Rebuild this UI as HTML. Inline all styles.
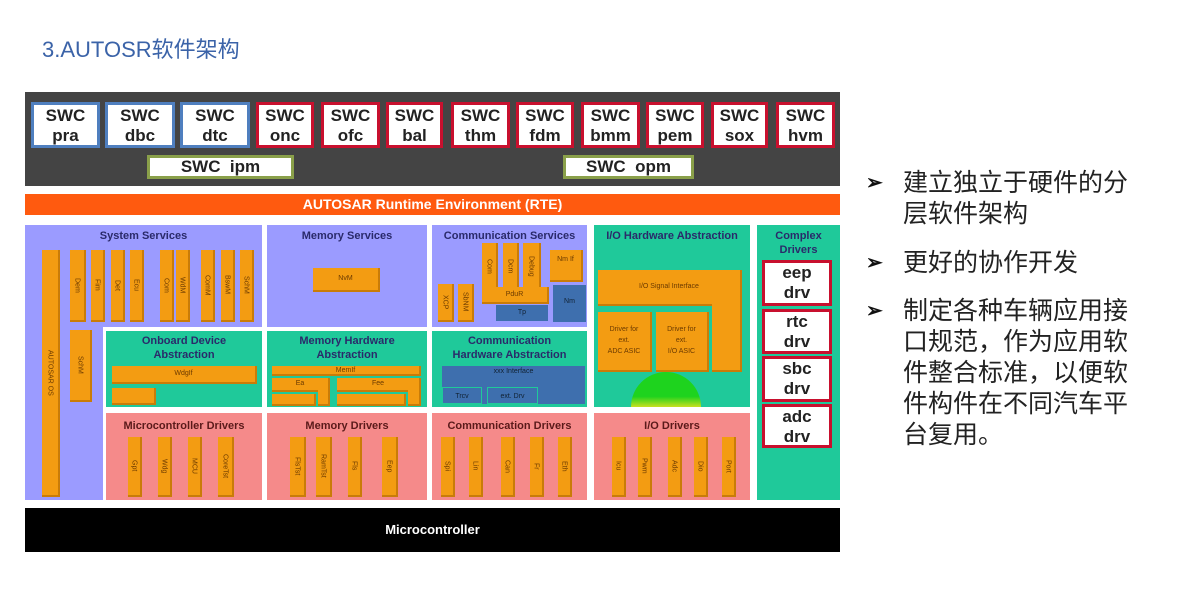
<!DOCTYPE html>
<html><head><meta charset="utf-8"><style>
body{margin:0;width:1195px;height:596px;background:#fff;position:relative;overflow:hidden;font-family:"Liberation Sans",Arial,sans-serif}
.a{position:absolute;box-sizing:border-box}
.swc{position:absolute;box-sizing:border-box;top:102px;height:46px;background:#fff;border:3px solid #c8102e;font-weight:bold;font-size:17px;line-height:20px;text-align:center;color:#222;padding-top:1px}
.b{border-color:#4f7fbf}
.o{position:absolute;background:#f39c12;box-sizing:border-box;border-right:2px solid #c97c08;border-bottom:2px solid #c97c08}
.bl{position:absolute;background:#3e6fae;box-sizing:border-box}
.t{position:absolute;font-size:11px;font-weight:bold;color:#2a2a6a;text-align:center;line-height:14px}
.v{writing-mode:vertical-rl;font-size:7px;color:#6b3a00;display:flex;align-items:center;justify-content:center}
.s{font-size:7px;color:#6b3a00;text-align:center}
.cd{position:absolute;box-sizing:border-box;left:762px;width:70px;background:#fff;border:3px solid #c8102e;font-weight:bold;font-size:17px;line-height:20px;text-align:center;color:#222}
.txt{position:absolute;left:903px;font-family:"Liberation Sans","Noto Sans CJK SC",sans-serif;font-size:25px;color:#222;line-height:31px}
.bu{position:absolute;left:866px;font-size:20px;color:#111;font-weight:bold}
</style></head><body>
<div class="a" style="left:42px;top:32px;font-size:22px;color:#3b63a8;font-family:'Liberation Sans','Noto Sans CJK SC',sans-serif">3.AUTOSR软件架构</div>

<div class="a" style="left:25px;top:92px;width:815px;height:94px;background:#444"></div>
<div class="swc b" style="left:31px;width:69px">SWC<br>pra</div>
<div class="swc b" style="left:105px;width:70px">SWC<br>dbc</div>
<div class="swc b" style="left:180px;width:70px">SWC<br>dtc</div>
<div class="swc" style="left:256px;width:58px">SWC<br>onc</div>
<div class="swc" style="left:321px;width:59px">SWC<br>ofc</div>
<div class="swc" style="left:386px;width:57px">SWC<br>bal</div>
<div class="swc" style="left:451px;width:59px">SWC<br>thm</div>
<div class="swc" style="left:516px;width:58px">SWC<br>fdm</div>
<div class="swc" style="left:581px;width:59px">SWC<br>bmm</div>
<div class="swc" style="left:646px;width:58px">SWC<br>pem</div>
<div class="swc" style="left:711px;width:57px">SWC<br>sox</div>
<div class="swc" style="left:776px;width:59px">SWC<br>hvm</div>
<div class="swc" style="left:147px;top:155px;width:147px;height:24px;border-color:#8aa04a;line-height:18px;padding-top:0">SWC&nbsp; ipm</div>
<div class="swc" style="left:563px;top:155px;width:131px;height:24px;border-color:#8aa04a;line-height:18px;padding-top:0">SWC&nbsp; opm</div>

<div class="a" style="left:25px;top:194px;width:815px;height:21px;background:#ff5a0f;color:#fff;font-weight:bold;font-size:14px;text-align:center;line-height:21px">AUTOSAR Runtime Environment (RTE)</div>

<div class="a" style="left:25px;top:225px;width:237px;height:102px;background:#9b9bff"></div>
<div class="a" style="left:25px;top:325px;width:78px;height:175px;background:#9b9bff"></div>
<div class="t" style="left:25px;top:229px;width:237px">System Services</div>
<div class="o v" style="left:42px;top:250px;width:18px;height:247px">AUTOSAR OS</div>
<div class="o v" style="left:70px;top:250px;width:16px;height:72px">Dem</div>
<div class="o v" style="left:91px;top:250px;width:14px;height:72px">Fim</div>
<div class="o v" style="left:111px;top:250px;width:14px;height:72px">Det</div>
<div class="o v" style="left:130px;top:250px;width:14px;height:72px">Ecu</div>
<div class="o v" style="left:160px;top:250px;width:14px;height:72px">Com</div>
<div class="o v" style="left:176px;top:250px;width:14px;height:72px">WdM</div>
<div class="o v" style="left:201px;top:250px;width:14px;height:72px">ComM</div>
<div class="o v" style="left:221px;top:250px;width:14px;height:72px">BswM</div>
<div class="o v" style="left:240px;top:250px;width:14px;height:72px">SchM</div>
<div class="o v" style="left:70px;top:330px;width:22px;height:72px">SchM</div>

<div class="a" style="left:267px;top:225px;width:160px;height:102px;background:#9b9bff"></div>
<div class="t" style="left:267px;top:229px;width:160px">Memory Services</div>
<div class="o s" style="left:313px;top:268px;width:67px;height:24px;line-height:22px">NvM</div>

<div class="a" style="left:432px;top:225px;width:155px;height:102px;background:#9b9bff"></div>
<div class="t" style="left:432px;top:229px;width:155px">Communication Services</div>
<div class="o v" style="left:482px;top:243px;width:16px;height:48px">Com</div>
<div class="o v" style="left:503px;top:243px;width:16px;height:48px">Dcm</div>
<div class="o v" style="left:523px;top:243px;width:18px;height:48px">Debug</div>
<div class="o s" style="left:550px;top:250px;width:33px;height:32px;padding-top:6px">Nm If</div>
<div class="o s" style="left:482px;top:287px;width:67px;height:17px;line-height:15px">PduR</div>
<div class="bl s" style="left:496px;top:305px;width:52px;height:16px;line-height:16px;color:#123">Tp</div>
<div class="bl s" style="left:553px;top:285px;width:33px;height:37px;line-height:34px;color:#123">Nm</div>
<div class="o v" style="left:438px;top:284px;width:16px;height:38px">XCP</div>
<div class="o v" style="left:458px;top:284px;width:16px;height:38px">SbNM</div>

<div class="a" style="left:594px;top:225px;width:156px;height:182px;background:#1fc99a"></div>
<div class="t" style="left:594px;top:229px;width:156px">I/O Hardware Abstraction</div>
<div class="o s" style="left:598px;top:270px;width:144px;height:36px;line-height:34px">I/O Signal Interface</div>
<div class="o" style="left:712px;top:300px;width:30px;height:72px"></div>
<div class="o s" style="left:598px;top:312px;width:54px;height:60px;padding-top:12px;line-height:11px">Driver for<br>ext.<br>ADC ASIC</div>
<div class="o s" style="left:656px;top:312px;width:53px;height:60px;padding-top:12px;line-height:11px">Driver for<br>ext.<br>I/O ASIC</div>
<div class="a" style="left:631px;top:372px;width:70px;height:35px;border-radius:35px 35px 0 0;background:linear-gradient(#1ed31e 70%,#c8e020)"></div>

<div class="a" style="left:757px;top:225px;width:83px;height:275px;background:#1fc99a"></div>
<div class="t" style="left:757px;top:229px;width:83px">Complex<br>Drivers</div>
<div class="cd" style="top:260px;height:46px">eep<br>drv</div>
<div class="cd" style="top:309px;height:45px">rtc<br>drv</div>
<div class="cd" style="top:356px;height:46px">sbc<br>drv</div>
<div class="cd" style="top:404px;height:44px">adc<br>drv</div>

<div class="a" style="left:106px;top:331px;width:156px;height:76px;background:#1fc99a"></div>
<div class="t" style="left:106px;top:334px;width:156px">Onboard Device<br>Abstraction</div>
<div class="o s" style="left:112px;top:366px;width:145px;height:18px;line-height:16px">WdgIf</div>
<div class="o" style="left:112px;top:388px;width:44px;height:17px"></div>

<div class="a" style="left:267px;top:331px;width:160px;height:76px;background:#1fc99a"></div>
<div class="t" style="left:267px;top:334px;width:160px">Memory Hardware<br>Abstraction</div>
<div class="o s" style="left:272px;top:366px;width:149px;height:10px;line-height:9px">MemIf</div>
<div class="o s" style="left:272px;top:378px;width:58px;height:14px;line-height:12px">Ea</div>
<div class="o" style="left:318px;top:378px;width:12px;height:28px"></div>
<div class="o" style="left:272px;top:394px;width:44px;height:12px"></div>
<div class="o s" style="left:337px;top:378px;width:84px;height:14px;line-height:12px">Fee</div>
<div class="o" style="left:408px;top:378px;width:13px;height:28px"></div>
<div class="o" style="left:337px;top:394px;width:69px;height:12px"></div>

<div class="a" style="left:432px;top:331px;width:155px;height:76px;background:#1fc99a"></div>
<div class="t" style="left:432px;top:334px;width:155px">Communication<br>Hardware Abstraction</div>
<div class="bl s" style="left:442px;top:366px;width:143px;height:38px;line-height:12px;color:#123">xxx Interface</div>
<div class="bl s" style="left:442px;top:387px;width:40px;height:17px;line-height:17px;color:#123;border:1px solid #1fc99a">Trcv</div>
<div class="bl s" style="left:487px;top:387px;width:51px;height:17px;line-height:17px;color:#123;border:1px solid #1fc99a">ext. Drv</div>

<div class="a" style="left:106px;top:413px;width:156px;height:87px;background:#f58a8a"></div>
<div class="t" style="left:106px;top:419px;width:156px;color:#5a1a1a">Microcontroller Drivers</div>
<div class="o v" style="left:128px;top:437px;width:14px;height:60px">Gpt</div>
<div class="o v" style="left:158px;top:437px;width:14px;height:60px">Wdg</div>
<div class="o v" style="left:188px;top:437px;width:14px;height:60px">MCU</div>
<div class="o v" style="left:218px;top:437px;width:16px;height:60px">CoreTst</div>

<div class="a" style="left:267px;top:413px;width:160px;height:87px;background:#f58a8a"></div>
<div class="t" style="left:267px;top:419px;width:160px;color:#5a1a1a">Memory Drivers</div>
<div class="o v" style="left:290px;top:437px;width:16px;height:60px">FlsTst</div>
<div class="o v" style="left:316px;top:437px;width:16px;height:60px">RamTst</div>
<div class="o v" style="left:348px;top:437px;width:14px;height:60px">Fls</div>
<div class="o v" style="left:382px;top:437px;width:16px;height:60px">Eep</div>

<div class="a" style="left:432px;top:413px;width:155px;height:87px;background:#f58a8a"></div>
<div class="t" style="left:432px;top:419px;width:155px;color:#5a1a1a">Communication Drivers</div>
<div class="o v" style="left:441px;top:437px;width:14px;height:60px">Spi</div>
<div class="o v" style="left:469px;top:437px;width:14px;height:60px">Lin</div>
<div class="o v" style="left:501px;top:437px;width:14px;height:60px">Can</div>
<div class="o v" style="left:530px;top:437px;width:14px;height:60px">Fr</div>
<div class="o v" style="left:558px;top:437px;width:14px;height:60px">Eth</div>

<div class="a" style="left:594px;top:413px;width:156px;height:87px;background:#f58a8a"></div>
<div class="t" style="left:594px;top:419px;width:156px;color:#5a1a1a">I/O Drivers</div>
<div class="o v" style="left:612px;top:437px;width:14px;height:60px">Icu</div>
<div class="o v" style="left:638px;top:437px;width:14px;height:60px">Pwm</div>
<div class="o v" style="left:668px;top:437px;width:14px;height:60px">Adc</div>
<div class="o v" style="left:694px;top:437px;width:14px;height:60px">Dio</div>
<div class="o v" style="left:722px;top:437px;width:14px;height:60px">Port</div>

<div class="a" style="left:25px;top:508px;width:815px;height:44px;background:#000;color:#fff;font-weight:bold;font-size:13px;text-align:center;line-height:44px">Microcontroller</div>

<div class="bu" style="top:170px">➢</div>
<div class="txt" style="top:168px">建立独立于硬件的分<br>层软件架构</div>
<div class="bu" style="top:250px">➢</div>
<div class="txt" style="top:248px">更好的协作开发</div>
<div class="bu" style="top:298px">➢</div>
<div class="txt" style="top:296px">制定各种车辆应用接<br>口规范，作为应用软<br>件整合标准，以便软<br>件构件在不同汽车平<br>台复用。</div>
</body></html>
